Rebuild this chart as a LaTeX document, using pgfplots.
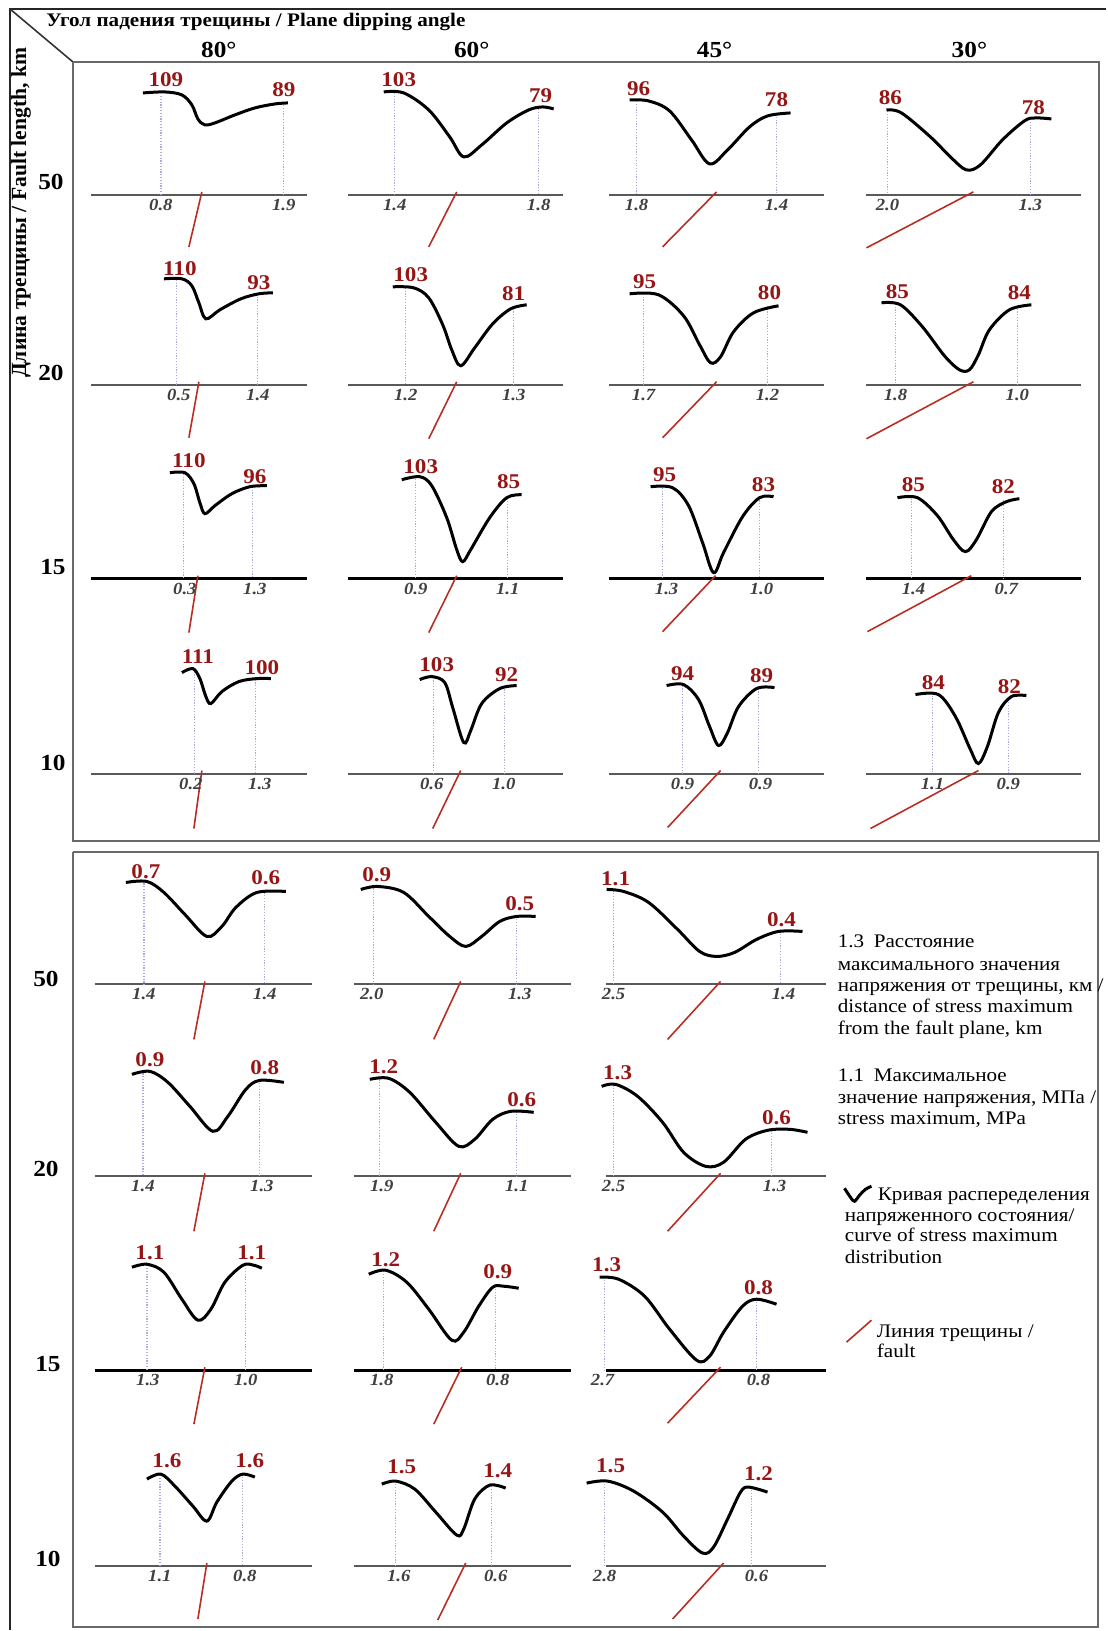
\documentclass[border=0pt]{standalone}
\usepackage{fontspec}
\setmainfont{Liberation Serif}[FakeStretch=1.1]
\newfontfamily\rotfont{Liberation Serif}
\usepackage{pgfplots}
\pgfplotsset{compat=1.18}
\definecolor{redlab}{RGB}{150,22,22}
\definecolor{faultc}{RGB}{185,45,35}
\definecolor{dotc}{RGB}{170,170,220}
\definecolor{framec}{RGB}{105,105,105}
\tikzset{
 crv/.style={black, line width=1.5pt, smooth, tension=0.55},
 vdl/.style={dotc, line width=0.6pt, dash pattern=on 0.6pt off 0.8pt},
 fll/.style={faultc, line width=0.8pt},
 bsl/.style={black!65, line width=1pt},
 bst/.style={black, line width=1.4pt},
 rlab/.style={font=\fontsize{10.5}{12}\selectfont\bfseries, text=redlab, inner sep=0pt},
 blab/.style={font=\fontsize{8.5}{9}\selectfont\bfseries\itshape, text=black!75, inner sep=0pt},
 rowl/.style={font=\fontsize{11.5}{13}\selectfont\bfseries, inner sep=0pt},
 leg/.style={font=\fontsize{9.6}{11}\selectfont, anchor=base west, inner sep=0pt},
}
\newcommand\Pvd[3]{\addplot[vdl] coordinates {(#1,#2) (#1,#3)};}
\newcommand\Pfl[4]{\addplot[fll] coordinates {(#1,#2) (#3,#4)};}
\newcommand\Prl[3]{\node[rlab] at (axis cs:#1,#2) {#3};}
\newcommand\Pbl[3]{\node[blab] at (axis cs:#1,#2) {#3};}
\newcommand\Pbs[4]{\addplot[#4] coordinates {(#1,#3) (#2,#3)};}
\newcommand\Pcv[1]{\addplot[crv] coordinates {#1};}
\begin{document}
\begin{tikzpicture}
\begin{axis}[hide axis, scale only axis, width=553.5pt, height=815.5pt,
  xmin=0, xmax=1107, ymin=0, ymax=1631, y dir=reverse, clip=false]
\addplot[draw=none] coordinates {(0,0) (1107,1631)};
% frames
\addplot[black!85, line width=1pt] coordinates {(10,1631) (10,9) (1107,9)};
\addplot[black!80, line width=0.8pt] coordinates {(10,9) (73,62)};
\addplot[framec, line width=1pt] coordinates {(73,62) (1100,62) (1100,842) (73,842) (73,62)};
\addplot[framec, line width=1pt] coordinates {(73,853) (1099,853) (1099,1628) (73,1628) (73,853)};
% titles
\node[anchor=west, font=\fontsize{9.6}{11}\selectfont\bfseries, inner sep=0pt] at (axis cs:46,22) {Угол падения трещины / Plane dipping angle};
\node[rowl] at (axis cs:219,50) {80°};
\node[rowl] at (axis cs:472,50) {60°};
\node[rowl] at (axis cs:715,50) {45°};
\node[rowl] at (axis cs:970,50) {30°};
\node[rotate=90, font=\rotfont\fontsize{10.8}{12}\selectfont\bfseries, inner sep=0pt] at (axis cs:21,213) {Длина трещины / Fault length, km};
\node[rowl] at (axis cs:51,182) {50};
\node[rowl] at (axis cs:51,373) {20};
\node[rowl] at (axis cs:53,567) {15};
\node[rowl] at (axis cs:53,763) {10};
\node[rowl] at (axis cs:46,980) {50};
\node[rowl] at (axis cs:46,1170) {20};
\node[rowl] at (axis cs:48,1365) {15};
\node[rowl] at (axis cs:48,1560) {10};
% ===== TOP FRAME =====
% R1 base 195
\Pbs{91}{307}{195}{bsl}\Pbs{348}{563}{195}{bsl}\Pbs{609}{824}{195}{bsl}\Pbs{867}{1082}{195}{bsl}
\Pfl{202}{192}{189}{247}\Pfl{457}{192}{429}{247}\Pfl{717}{192}{663}{247}\Pfl{974}{192}{867}{248}
\Pvd{161}{96}{195}\Pvd{284}{105}{195}\Pvd{395}{93}{195}\Pvd{539}{109}{195}
\Pvd{637}{101}{195}\Pvd{777}{114}{195}\Pvd{888}{111}{195}\Pvd{1031}{119}{195}
\Pcv{(143,93) (165,92) (182,95) (192,105) (198,119) (205,125) (215,123) (235,115) (255,108) (275,104) (288,103)}
\Pcv{(384,92) (404,93) (429,110) (450,137) (464,157) (482,145) (507,123) (529,110) (543,107) (554,109)}
\Pcv{(630,100) (649,101) (670,111) (692,140) (710,164) (728,150) (750,127) (768,116) (791,113)}
\Pcv{(887,110) (902,113) (931,137) (952,158) (967,170) (981,165) (1003,140) (1025,121) (1036,118) (1052,119)}
\Prl{166}{80}{109}\Prl{284}{90}{89}\Prl{399}{80}{103}\Prl{541}{96}{79}
\Prl{639}{89}{96}\Prl{777}{100}{78}\Prl{891}{98}{86}\Prl{1034}{108}{78}
\Pbl{161}{205}{0.8}\Pbl{284}{205}{1.9}\Pbl{395}{205}{1.4}\Pbl{539}{205}{1.8}
\Pbl{637}{205}{1.8}\Pbl{777}{205}{1.4}\Pbl{888}{205}{2.0}\Pbl{1031}{205}{1.3}
% R2 base 385
\Pbs{91}{307}{385}{bsl}\Pbs{348}{563}{385}{bsl}\Pbs{609}{824}{385}{bsl}\Pbs{867}{1082}{385}{bsl}
\Pfl{199}{382}{189}{438}\Pfl{457}{382}{429}{439}\Pfl{717}{382}{663}{438}\Pfl{974}{382}{867}{439}
\Pvd{177}{280}{385}\Pvd{258}{294}{385}\Pvd{406}{288}{385}\Pvd{514}{306}{385}
\Pvd{644}{294}{385}\Pvd{768}{306}{385}\Pvd{896}{304}{385}\Pvd{1018}{306}{385}
\Pcv{(164,279) (182,279) (192,286) (199,303) (206,319) (220,310) (241,299) (259,294) (273,293)}
\Pcv{(393,287) (414,288) (429,298) (443,325) (452,350) (461,366) (475,348) (493,324) (511,309) (527,305)}
\Pcv{(630,294) (659,295) (684,316) (700,345) (711,363) (721,357) (734,332) (754,313) (779,306)}
\Pcv{(882,303) (901,305) (923,327) (945,356) (960,370) (970,370) (979,355) (990,330) (1010,310) (1032,305)}
\Prl{180}{269}{110}\Prl{259}{283}{93}\Prl{411}{275}{103}\Prl{514}{294}{81}
\Prl{645}{282}{95}\Prl{770}{293}{80}\Prl{898}{292}{85}\Prl{1020}{293}{84}
\Pbl{179}{395}{0.5}\Pbl{258}{395}{1.4}\Pbl{406}{395}{1.2}\Pbl{514}{395}{1.3}
\Pbl{644}{395}{1.7}\Pbl{768}{395}{1.2}\Pbl{896}{395}{1.8}\Pbl{1018}{395}{1.0}
% R3 base 579
\Pbs{91}{307}{579}{bst}\Pbs{348}{563}{579}{bst}\Pbs{609}{824}{579}{bst}\Pbs{867}{1082}{579}{bst}
\Pfl{198}{576}{189}{633}\Pfl{457}{576}{429}{633}\Pfl{716}{576}{663}{632}\Pfl{972}{576}{868}{632}
\Pvd{184}{474}{579}\Pvd{253}{487}{579}\Pvd{416}{479}{579}\Pvd{508}{496}{579}
\Pvd{663}{488}{579}\Pvd{760}{498}{579}\Pvd{912}{499}{579}\Pvd{1004}{500}{579}
\Pcv{(170,473) (185,473) (194,484) (200,503) (205,514) (215,506) (232,494) (250,487) (267,486)}
\Pcv{(402,480) (420,477) (432,486) (447,518) (457,550) (463,562) (471,550) (490,518) (507,498) (522,495)}
\Pcv{(651,487) (673,488) (689,506) (703,543) (714,573) (724,553) (743,517) (760,498) (774,497)}
\Pcv{(898,498) (918,498) (938,516) (954,540) (966,552) (977,540) (992,512) (1007,502) (1020,499)}
\Prl{189}{461}{110}\Prl{255}{477}{96}\Prl{421}{467}{103}\Prl{509}{482}{85}
\Prl{665}{475}{95}\Prl{764}{485}{83}\Prl{914}{485}{85}\Prl{1004}{487}{82}
\Pbl{185}{589}{0.3}\Pbl{255}{589}{1.3}\Pbl{416}{589}{0.9}\Pbl{508}{589}{1.1}
\Pbl{667}{589}{1.3}\Pbl{762}{589}{1.0}\Pbl{914}{589}{1.4}\Pbl{1007}{589}{0.7}
% R4 base 774
\Pbs{91}{307}{774}{bsl}\Pbs{348}{563}{774}{bsl}\Pbs{609}{824}{774}{bsl}\Pbs{867}{1082}{774}{bsl}
\Pfl{202}{771}{194}{829}\Pfl{461}{771}{433}{829}\Pfl{721}{771}{668}{828}\Pfl{979}{771}{871}{829}
\Pvd{195}{672}{774}\Pvd{256}{680}{774}\Pvd{434}{678}{774}\Pvd{505}{687}{774}
\Pvd{683}{686}{774}\Pvd{759}{689}{774}\Pvd{933}{696}{774}\Pvd{1009}{697}{774}
\Pcv{(182,673) (193,669) (200,679) (206,697) (211,704) (222,692) (239,682) (257,679) (271,679)}
\Pcv{(420,680) (432,677) (445,683) (453,708) (464,743) (471,731) (482,704) (500,689) (517,686)}
\Pcv{(667,686) (684,685) (699,700) (710,727) (719,746) (728,733) (739,707) (757,689) (775,688)}
\Pcv{(916,695) (939,695) (956,717) (971,750) (979,764) (988,747) (999,713) (1012,697) (1027,696)}
\Prl{198}{657}{111}\Prl{262}{668}{100}\Prl{437}{665}{103}\Prl{507}{675}{92}
\Prl{683}{674}{94}\Prl{762}{676}{89}\Prl{934}{683}{84}\Prl{1010}{687}{82}
\Pbl{191}{784}{0.2}\Pbl{260}{784}{1.3}\Pbl{432}{784}{0.6}\Pbl{504}{784}{1.0}
\Pbl{683}{784}{0.9}\Pbl{761}{784}{0.9}\Pbl{933}{784}{1.1}\Pbl{1009}{784}{0.9}
% ===== BOTTOM FRAME =====
% R1 base 985
\Pbs{95}{312}{985}{bsl}\Pbs{354}{571}{985}{bsl}\Pbs{606}{826}{985}{bsl}
\Pfl{205}{982}{194}{1040}\Pfl{461}{982}{434}{1040}\Pfl{721}{982}{668}{1040}
\Pvd{144}{884}{985}\Pvd{265}{893}{985}\Pvd{374}{889}{985}\Pvd{517}{917}{985}\Pvd{614}{891}{985}\Pvd{781}{932}{985}
\Pcv{(126,883) (147,882) (164,893) (185,915) (207,937) (222,927) (236,908) (257,893) (286,892)}
\Pcv{(361,890) (378,887) (404,893) (429,917) (450,937) (466,947) (482,937) (500,922) (517,917) (536,917)}
\Pcv{(607,890) (624,892) (649,903) (678,930) (700,952) (717,957) (735,953) (757,940) (779,932) (803,932)}
\Prl{146}{872}{0.7}\Prl{266}{878}{0.6}\Prl{377}{875}{0.9}\Prl{520}{904}{0.5}\Prl{616}{879}{1.1}\Prl{782}{920}{0.4}
\Pbl{144}{995}{1.4}\Pbl{265}{995}{1.4}\Pbl{372}{995}{2.0}\Pbl{520}{995}{1.3}\Pbl{614}{995}{2.5}\Pbl{784}{995}{1.4}
% R2 base 1177
\Pbs{95}{312}{1177}{bsl}\Pbs{354}{571}{1177}{bsl}\Pbs{606}{826}{1177}{bsl}
\Pfl{205}{1174}{194}{1232}\Pfl{461}{1174}{434}{1232}\Pfl{721}{1174}{668}{1232}
\Pvd{143}{1074}{1177}\Pvd{260}{1081}{1177}\Pvd{380}{1080}{1177}\Pvd{517}{1112}{1177}\Pvd{614}{1086}{1177}\Pvd{772}{1131}{1177}
\Pcv{(132,1075) (150,1072) (168,1083) (190,1107) (213,1132) (228,1117) (246,1090) (260,1081) (284,1083)}
\Pcv{(370,1080) (389,1079) (410,1093) (436,1123) (459,1147) (475,1140) (493,1120) (511,1112) (534,1113)}
\Pcv{(602,1087) (616,1085) (638,1097) (663,1123) (684,1153) (706,1167) (724,1163) (746,1140) (768,1131) (790,1130) (808,1133)}
\Prl{150}{1060}{0.9}\Prl{265}{1068}{0.8}\Prl{384}{1067}{1.2}\Prl{522}{1100}{0.6}\Prl{618}{1073}{1.3}\Prl{777}{1118}{0.6}
\Pbl{143}{1187}{1.4}\Pbl{262}{1187}{1.3}\Pbl{382}{1187}{1.9}\Pbl{517}{1187}{1.1}\Pbl{614}{1187}{2.5}\Pbl{775}{1187}{1.3}
% R3 base 1371
\Pbs{95}{312}{1371}{bst}\Pbs{354}{571}{1371}{bst}\Pbs{606}{826}{1371}{bst}
\Pfl{205}{1368}{194}{1425}\Pfl{462}{1368}{434}{1425}\Pfl{721}{1368}{668}{1424}
\Pvd{147}{1266}{1371}\Pvd{246}{1266}{1371}\Pvd{384}{1272}{1371}\Pvd{496}{1287}{1371}\Pvd{605}{1278}{1371}\Pvd{757}{1300}{1371}
\Pcv{(132,1268) (147,1265) (164,1273) (182,1300) (198,1321) (211,1310) (225,1283) (243,1266) (254,1266) (262,1269)}
\Pcv{(369,1275) (386,1271) (407,1283) (429,1310) (452,1341) (464,1333) (479,1307) (493,1288) (504,1287) (519,1289)}
\Pcv{(600,1278) (619,1280) (645,1297) (670,1330) (697,1361) (710,1357) (724,1333) (743,1307) (757,1300) (777,1305)}
\Prl{150}{1253}{1.1}\Prl{252}{1253}{1.1}\Prl{386}{1260}{1.2}\Prl{498}{1272}{0.9}\Prl{607}{1265}{1.3}\Prl{759}{1288}{0.8}
\Pbl{148}{1381}{1.3}\Pbl{246}{1381}{1.0}\Pbl{382}{1381}{1.8}\Pbl{498}{1381}{0.8}\Pbl{603}{1381}{2.7}\Pbl{759}{1381}{0.8}
% R4 base 1567
\Pbs{95}{312}{1567}{bsl}\Pbs{354}{571}{1567}{bsl}\Pbs{606}{826}{1567}{bsl}
\Pfl{207}{1564}{198}{1620}\Pfl{466}{1564}{438}{1621}\Pfl{724}{1564}{673}{1620}
\Pvd{160}{1476}{1567}\Pvd{243}{1475}{1567}\Pvd{396}{1482}{1567}\Pvd{492}{1487}{1567}\Pvd{605}{1482}{1567}\Pvd{752}{1488}{1567}
\Pcv{(147,1480) (161,1475) (175,1487) (193,1507) (207,1522) (217,1503) (232,1482) (243,1475) (255,1478)}
\Pcv{(382,1485) (396,1482) (415,1490) (436,1513) (457,1536) (464,1530) (475,1500) (490,1486) (506,1489)}
\Pcv{(587,1484) (608,1482) (634,1492) (663,1513) (684,1537) (703,1554) (714,1548) (728,1520) (741,1493) (749,1488) (768,1493)}
\Prl{167}{1462}{1.6}\Prl{250}{1462}{1.6}\Prl{402}{1468}{1.5}\Prl{498}{1472}{1.4}\Prl{611}{1467}{1.5}\Prl{759}{1475}{1.2}
\Pbl{160}{1577}{1.1}\Pbl{245}{1577}{0.8}\Pbl{399}{1577}{1.6}\Pbl{496}{1577}{0.6}\Pbl{605}{1577}{2.8}\Pbl{757}{1577}{0.6}
% ===== LEGEND =====
\node[leg] at (axis cs:838,948) {1.3\enspace Расстояние};
\node[leg] at (axis cs:838,971) {максимального значения};
\node[leg] at (axis cs:838,992) {напряжения от трещины, км /};
\node[leg] at (axis cs:838,1013) {distance of stress maximum};
\node[leg] at (axis cs:838,1035) {from the fault plane, km};
\node[leg] at (axis cs:838,1082) {1.1\enspace Максимальное};
\node[leg] at (axis cs:838,1104) {значение напряжения, МПа /};
\node[leg] at (axis cs:838,1125) {stress maximum, MPa};
\addplot[crv] coordinates {(845,1189) (851,1198) (855,1202) (860,1196) (866,1190) (872,1187)};
\node[leg] at (axis cs:878,1201) {Кривая распеределения};
\node[leg] at (axis cs:845,1222) {напряженного состояния/};
\node[leg] at (axis cs:845,1242) {curve of stress maximum};
\node[leg] at (axis cs:845,1264) {distribution};
\addplot[fll] coordinates {(847,1343) (872,1321)};
\node[leg] at (axis cs:877,1338) {Линия трещины /};
\node[leg] at (axis cs:877,1358) {fault};
\end{axis}
\end{tikzpicture}
\end{document}
